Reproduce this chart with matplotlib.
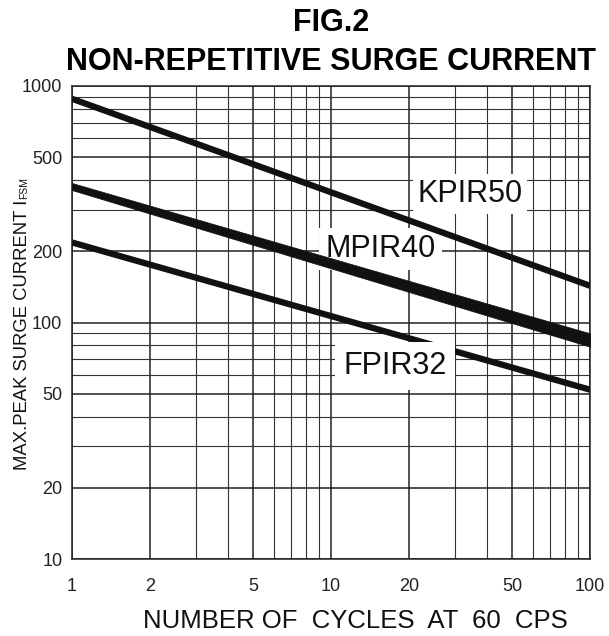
import numpy as np
import matplotlib.pyplot as plt
from matplotlib.ticker import FixedLocator, NullFormatter, LogLocator

plt.rcParams['font.family'] = ['Liberation Sans', 'DejaVu Sans']

# values (log-log straight lines, end points)
cycles = [1, 100]
kpir50 = [883, 143]
fpir32 = [218, 52]
mpir40_hi = [389, 90]
mpir40_lo = [363, 79]

x_ticks = [1, 2, 5, 10, 20, 50, 100]
y_ticks = [10, 20, 50, 100, 200, 500, 1000]

# label name, x, y (baseline), bbox pad, zorder
curve_labels = [("KPIR50", 34.4, 323, 0.16, 4),
                ("MPIR40", 15.5, 189, 0.2, 2.5),
                ("FPIR32", 17.7, 60.6, 0.28, 4)]

W, H = 609, 636
fig = plt.figure(figsize=(W / 100, H / 100), dpi=100)
ax = fig.add_axes([72 / W, 1 - 559 / H, (590 - 72) / W, (559 - 86) / H])
ax.set_xscale('log')
ax.set_yscale('log')
ax.set_xlim(1, 100)
ax.set_ylim(10, 1000)

ax.xaxis.set_major_locator(FixedLocator(x_ticks))
ax.yaxis.set_major_locator(FixedLocator(y_ticks))
ax.set_xticklabels([str(v) for v in x_ticks])
ax.set_yticklabels([str(v) for v in y_ticks])
ax.xaxis.set_minor_locator(LogLocator(subs=range(2, 10)))
ax.yaxis.set_minor_locator(LogLocator(subs=range(2, 10)))
ax.xaxis.set_minor_formatter(NullFormatter())
ax.yaxis.set_minor_formatter(NullFormatter())
ax.tick_params(which='both', length=0)
ax.tick_params(axis='x', labelsize=13, pad=14, colors='#222222')
ax.tick_params(axis='y', labelsize=13, pad=7, colors='#222222')

ax.grid(which='major', color='#222222', lw=1.1)
ax.grid(which='minor', color='#333333', lw=0.8)
ax.set_axisbelow(True)
for s in ax.spines.values():
    s.set_color('#222222')
    s.set_linewidth(1.1)

ax.plot(cycles, kpir50, color='#111111', lw=4.5, solid_capstyle='butt', zorder=3)
ax.plot(cycles, fpir32, color='#111111', lw=4.5, solid_capstyle='butt', zorder=3)
ax.fill_between(cycles, mpir40_lo, mpir40_hi, color='#111111', lw=0.5, zorder=3)

for name, x, y, pad, z in curve_labels:
    ax.text(x, y, name, fontsize=22, ha='center', va='baseline', color='#111111', zorder=z,
            bbox=dict(facecolor='white', edgecolor='none', pad=pad * 22))

fig.text(331 / W, 1 - 31 / H, "FIG.2", fontsize=22, fontweight='bold', ha='center', va='baseline')
fig.text(331 / W, 1 - 70 / H, "NON-REPETITIVE SURGE CURRENT", fontsize=22, fontweight='bold',
         ha='center', va='baseline')

fig.text(568 / W, 8 / H, "NUMBER OF  CYCLES  AT  60  CPS", fontsize=18.5, ha='right',
         va='baseline', color='#111111')

ylab = fig.text(27 / W, 166 / H, "MAX.PEAK SURGE CURRENT I", fontsize=13.3, rotation=90,
                rotation_mode='anchor', ha='left', va='baseline', color='#111111')
fig.canvas.draw()
bb = ylab.get_window_extent()
fig.text(27 / W, (bb.y1 + 1) / H, "FSM", fontsize=7.5, rotation=90,
         rotation_mode='anchor', ha='left', va='baseline', color='#111111')

fig.savefig('out.png', dpi=100)
